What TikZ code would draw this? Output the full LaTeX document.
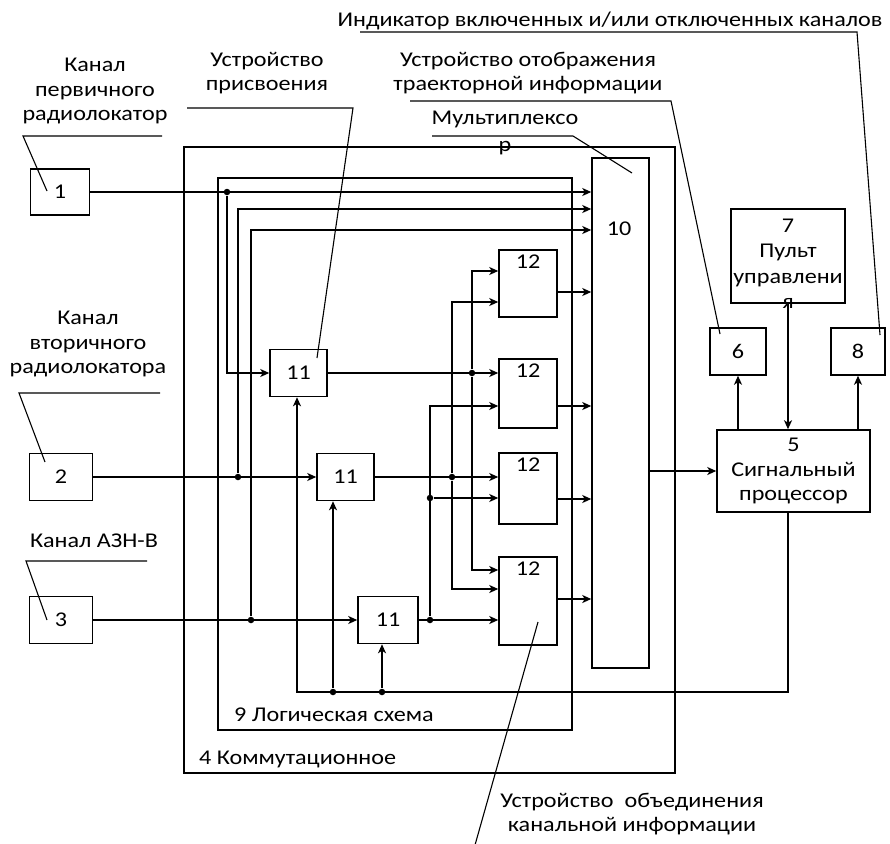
\documentclass[tikz,border=0pt]{standalone}
\usepackage{fontspec}
\setmainfont{Carlito}[FakeStretch=1.15]
\usepackage{tikz}
\usetikzlibrary{arrows.meta}

\begin{document}
\begin{tikzpicture}[x=1pt, y=-1pt, line width=1.5pt,
    font=\fontsize{21}{24.5}\selectfont,
    blk/.style={draw, inner sep=0pt},
    arr/.style={-{Stealth[length=9pt, width=8pt, inset=2.5pt]}},
    lead/.style={line width=1.1pt},
    txt/.style={align=center},
    dot/.style={circle, fill, inner sep=0pt, minimum size=6.5pt}]
  \useasboundingbox (0,0) rectangle (890,843);

  % frames 4 and 9
  \node[blk, minimum width=491, minimum height=626] (comm) at (429.5,460) {};
  \node[blk, minimum width=354, minimum height=552] (logic) at (395,454) {};
  \node[anchor=west] (l4) at (195,759) {4 Коммутационное};
  \node[anchor=west] (l9) at (230,715) {9 Логическая схема};

  % channels
  \node[blk, minimum width=59, minimum height=46] (b1) at (60,192) {1};
  \node[blk, minimum width=63, minimum height=47] (b2) at (61,477) {2};
  \node[blk, minimum width=63, minimum height=47] (b3) at (61,620) {3};

  % assignment devices 11
  \node[blk, minimum width=57, minimum height=47] (b11a) at (298.5,373) {11};
  \node[blk, minimum width=57, minimum height=47] (b11b) at (345.5,477) {11};
  \node[blk, minimum width=60, minimum height=47] (b11c) at (388,620) {11};

  % merging devices 12
  \node[blk, minimum width=58, minimum height=67] (b12a) at (528,283.5) {};
  \node[blk, minimum width=58, minimum height=69] (b12b) at (528,393.5) {};
  \node[blk, minimum width=58, minimum height=71] (b12c) at (528,488.5) {};
  \node[blk, minimum width=58, minimum height=88] (b12d) at (528,601) {};
  \foreach \b in {b12a,b12b,b12c,b12d}
    \node[anchor=north] (\b-t) at ([yshift=-2pt]\b.north) {12};

  % multiplexer
  \node[blk, minimum width=57, minimum height=510] (mux) at (620.5,413) {};
  \node (l10) at (619,229) {10};

  % right part
  \node[blk, minimum width=114, minimum height=94] (b7) at (788,256) {};
  \node[txt, font=\fontsize{21}{25.5}\selectfont] (t7) at (788,264)
    {7\\Пульт\\управлени\\я};
  \node[blk, minimum width=56, minimum height=47] (b6) at (738,351.5) {6};
  \node[blk, minimum width=54, minimum height=47] (b8) at (858,351.5) {8};
  \node[blk, txt, minimum width=153, minimum height=82] (b5) at (793.5,471)
    {5\\Сигнальный\\процессор};

  % inputs to 11 and 10
  \node[dot] (j1) at (227,192) {};
  \node[dot] (j2) at (238,477) {};
  \node[dot] (j3) at (251,620) {};
  \draw[arr] (b1.east) -- (b1.east -| mux.west);
  \draw[arr] (b2.east) -- (b11b.west);
  \draw[arr] (b3.east) -- (b11c.west);
  \draw[arr] (j1) |- (b11a.west);
  \draw[arr] (j2) |- (mux.west |- 0,209);
  \draw[arr] (j3) |- (mux.west |- 0,230);

  % outputs of 11 to 12
  \node[dot] (ja) at (472,373) {};
  \node[dot] (jb) at (452,477) {};
  \node[dot] (jc) at (430,620) {};
  \node[dot] (jc2) at (430,498) {};
  \draw[arr] (b11a.east) -- (b11a.east -| b12b.west);
  \draw[arr] (ja) |- (b12a.west |- 0,271);
  \draw[arr] (ja) |- (b12d.west |- 0,570);
  \draw[arr] (b11b.east) -- (b11b.east -| b12c.west);
  \draw[arr] (jb) |- (b12a.west |- 0,302);
  \draw[arr] (jb) |- (b12d.west |- 0,589);
  \draw[arr] (b11c.east) -- (b11c.east -| b12d.west);
  \draw[arr] (jc) |- (b12b.west |- 0,406);
  \draw[arr] (jc2) -- (jc2 -| b12c.west);

  % 12 to multiplexer
  \foreach \b/\dy in {b12a/-8.5, b12b/-12.5, b12c/-10.5, b12d/2}
    \draw[arr] ([yshift=\dy pt]\b.east) coordinate (o) -- (o -| mux.west);

  % multiplexer, processor, console, indicators
  \draw[arr] (mux.east |- b5.west) -- (b5.west);
  \draw[arr] (b7.south) -- (b7.south |- b5.north);
  \draw[arr] (b6.south |- b5.north) -- (b6.south);
  \draw[arr] (b8.south |- b5.north) -- (b8.south);

  % feedback to 11
  \coordinate (fb) at (297,692);
  \node[dot] (fb2) at (333,692) {};
  \node[dot] (fb3) at (382,692) {};
  \draw[arr] (b7.south |- b5.south) |- (fb) -- (fb |- b11a.south);
  \draw[arr] (fb2) -- (fb2 |- b11b.south);
  \draw[arr] (fb3) -- (fb3 |- b11c.south);

  % callouts
  \node[txt] (c1) at (95,91) {Канал\\первичного\\радиолокатор};
  \draw[lead] (162,136) -- (23,136) -- (47,191);
  \node[txt] (c2) at (88,344) {Канал\\вторичного\\радиолокатора};
  \draw[lead] (160,393) -- (19,393) -- (45,462);
  \node[txt] (c3) at (94,541) {Канал АЗН-В};
  \draw[lead] (147,561) -- (26,561) -- (47,620);
  \node[txt] (c11) at (267,73) {Устройство\\присвоения};
  \draw[lead] (187,108) -- (353,108) -- (317,358);
  \node[txt] (c8) at (610,21) {Индикатор включенных и/или отключенных каналов};
  \draw[lead] (360,32) -- (857,32) -- (880,335);
  \node[txt] (c6) at (528,73) {Устройство отображения\\траекторной информации};
  \draw[lead] (410,101) -- (671,101) -- (720,334);
  \node[txt, font=\fontsize{21}{27}\selectfont] (c10) at (505,133) {Мультиплексо\\р};
  \draw[lead] (432,136) -- (573,136) -- (632,173);
  \node[txt] (c12) at (632,814) {Устройство~ объединения\\канальной информации};
  \draw[lead] (538,622) -- (475,845);
\end{tikzpicture}
\end{document}
